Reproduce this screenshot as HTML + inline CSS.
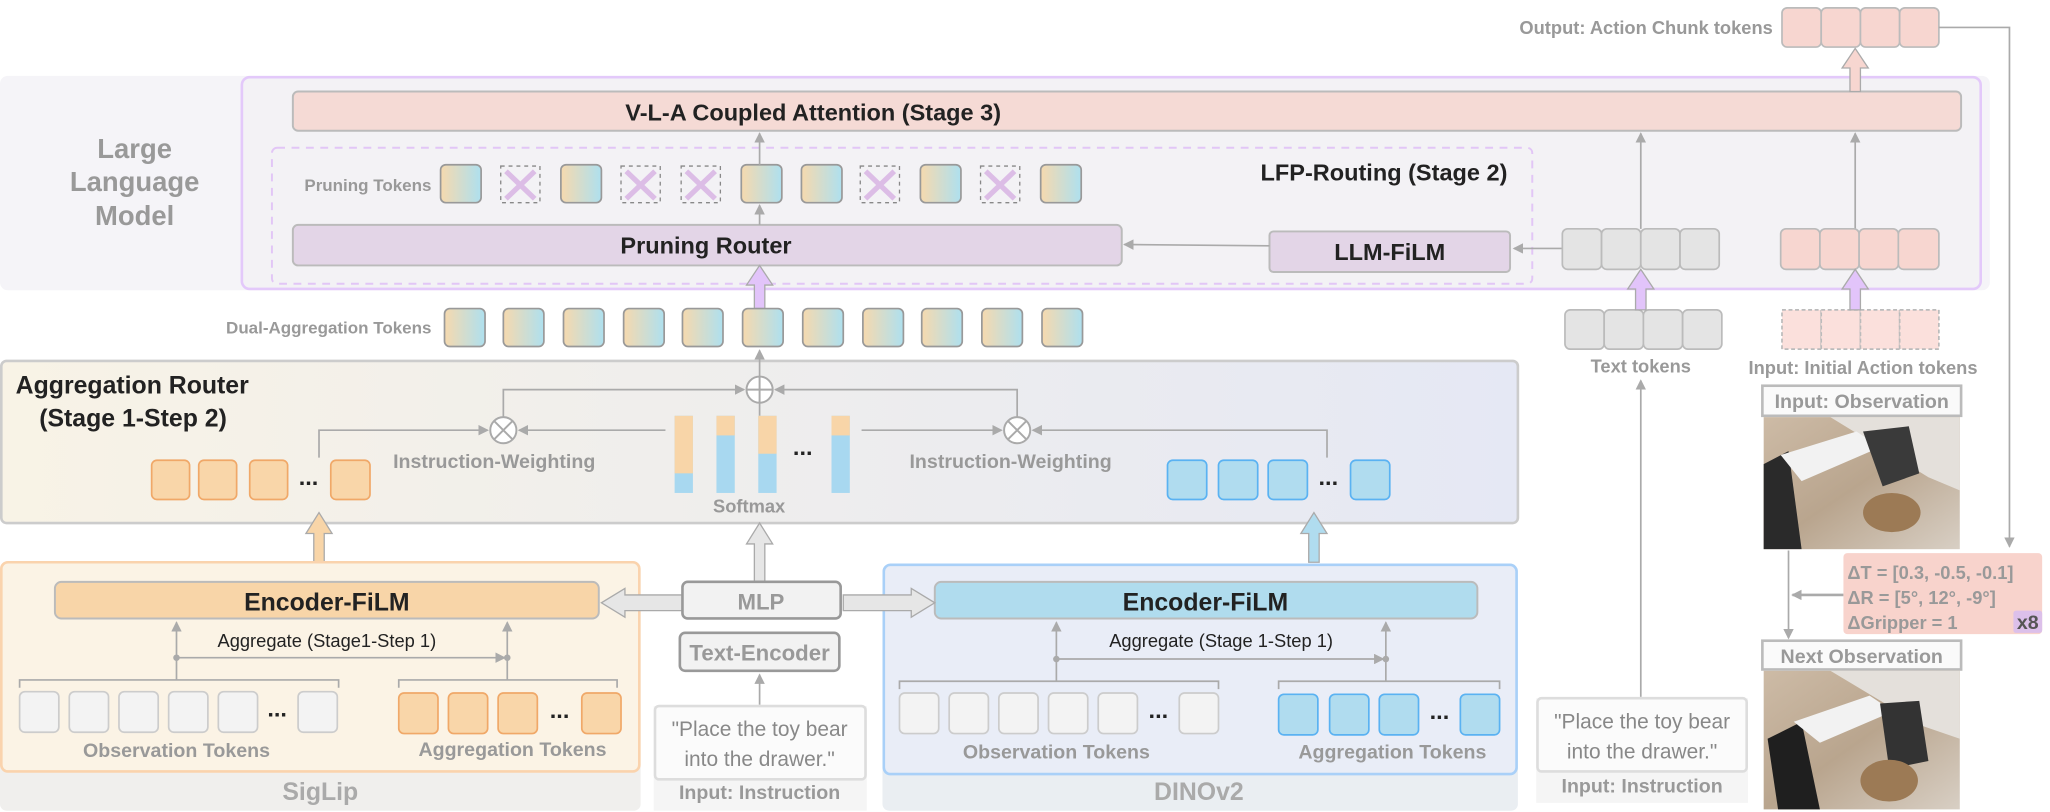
<!DOCTYPE html>
<html><head><meta charset="utf-8"><style>
html,body{margin:0;padding:0;background:#fff;}
svg{display:block;}
text{font-family:"Liberation Sans Narrow","Liberation Sans",sans-serif;}
</style></head><body>
<svg width="2050" height="812" viewBox="0 0 1568 621" preserveAspectRatio="none" xmlns="http://www.w3.org/2000/svg">
<defs>
<linearGradient id="tk" x1="0" x2="1" y1="0" y2="0"><stop offset="0" stop-color="#f6d9ae"/><stop offset="1" stop-color="#aee0ef"/></linearGradient>
<linearGradient id="ar" x1="0" x2="1"><stop offset="0" stop-color="#f8f3e6"/><stop offset="1" stop-color="#e5e8f4"/></linearGradient>
<linearGradient id="ph1" x1="0" x2="1" y1="0" y2="1"><stop offset="0" stop-color="#cdbba6"/><stop offset="0.5" stop-color="#b9a58e"/><stop offset="1" stop-color="#d8cfc4"/></linearGradient>
<marker id="ah" markerWidth="8" markerHeight="8" refX="7" refY="4" orient="auto" markerUnits="userSpaceOnUse"><path d="M0,0 L8,4 L0,8 z" fill="#aaa"/></marker>
</defs>

<!-- LLM region -->
<rect x="0" y="58" width="1522" height="164" rx="6" fill="#f5f4f8"/>
<rect x="185" y="59" width="1330" height="162" rx="6" fill="#f3f2f5" stroke="#e3c9fa" stroke-width="2"/>
<text x="103" y="121" font-size="21" font-weight="bold" fill="#999" text-anchor="middle">Large</text>
<text x="103" y="146" font-size="21" font-weight="bold" fill="#999" text-anchor="middle">Language</text>
<text x="103" y="172" font-size="21" font-weight="bold" fill="#999" text-anchor="middle">Model</text>
<rect x="224" y="70" width="1276" height="30" rx="4" fill="#f5dad5" stroke="#bbb" stroke-width="1.5"/>
<text x="622" y="92" font-size="18" font-weight="bold" fill="#222" text-anchor="middle">V-L-A Coupled Attention (Stage 3)</text>
<rect x="208" y="113" width="964" height="104" rx="4" fill="none" stroke="#e2c6f6" stroke-width="1.5" stroke-dasharray="6,5"/>
<text x="330" y="146" font-size="13" font-weight="bold" fill="#999" text-anchor="end">Pruning Tokens</text>
<text x="1153" y="138" font-size="18" font-weight="bold" fill="#222" text-anchor="end">LFP-Routing (Stage 2)</text>
<g stroke="#999" stroke-width="1.3">
<rect x="337" y="126" width="31" height="29" rx="4" fill="url(#tk)"/>
<rect x="429" y="126" width="31" height="29" rx="4" fill="url(#tk)"/>
<rect x="567" y="126" width="31" height="29" rx="4" fill="url(#tk)"/>
<rect x="613" y="126" width="31" height="29" rx="4" fill="url(#tk)"/>
<rect x="704" y="126" width="31" height="29" rx="4" fill="url(#tk)"/>
<rect x="796" y="126" width="31" height="29" rx="4" fill="url(#tk)"/>
</g>
<g>
<g id="xx"><rect x="383" y="127" width="30" height="28" fill="none" stroke="#888" stroke-width="1" stroke-dasharray="3,3"/><path d="M387,131 L409,152 M409,131 L387,152" stroke="#dcbde6" stroke-width="4"/></g>
<use href="#xx" x="92"/><use href="#xx" x="138"/><use href="#xx" x="275"/><use href="#xx" x="367"/>
</g>
<rect x="224" y="172" width="634" height="31" rx="4" fill="#e3d5e7" stroke="#bbb" stroke-width="1.5"/>
<text x="540" y="194" font-size="18" font-weight="bold" fill="#222" text-anchor="middle">Pruning Router</text>
<rect x="971" y="177" width="184" height="31" rx="3" fill="#e3d5e7" stroke="#bbb" stroke-width="1.5"/>
<text x="1063" y="199" font-size="18" font-weight="bold" fill="#222" text-anchor="middle">LLM-FiLM</text>
<g stroke="#aaa" stroke-width="1.3" fill="none" marker-end="url(#ah)">
<line x1="1195" y1="190" x2="1158" y2="190"/>
<line x1="971" y1="188" x2="860" y2="187"/>
<line x1="581" y1="172" x2="581" y2="157"/>
<line x1="581" y1="126" x2="581" y2="102"/>
<line x1="1255" y1="175" x2="1255" y2="102"/>
<line x1="1419" y1="175" x2="1419" y2="102"/>
</g>
<g stroke="#bbb" stroke-width="1.3">
<rect x="1195" y="175" width="30" height="31" rx="4" fill="#e4e4e4"/><rect x="1225" y="175" width="30" height="31" rx="4" fill="#e4e4e4"/><rect x="1255" y="175" width="30" height="31" rx="4" fill="#e4e4e4"/><rect x="1285" y="175" width="30" height="31" rx="4" fill="#e4e4e4"/>
<rect x="1362" y="175" width="30" height="31" rx="4" fill="#f7d6d0"/><rect x="1392" y="175" width="30" height="31" rx="4" fill="#f7d6d0"/><rect x="1422" y="175" width="30" height="31" rx="4" fill="#f7d6d0"/><rect x="1452" y="175" width="31" height="31" rx="4" fill="#f7d6d0"/>
<rect x="1363" y="6" width="30" height="30" rx="4" fill="#f7d6d0"/><rect x="1393" y="6" width="30" height="30" rx="4" fill="#f7d6d0"/><rect x="1423" y="6" width="30" height="30" rx="4" fill="#f7d6d0"/><rect x="1453" y="6" width="30" height="30" rx="4" fill="#f7d6d0"/>
<rect x="1197" y="237" width="30" height="30" rx="4" fill="#e4e4e4"/><rect x="1227" y="237" width="30" height="30" rx="4" fill="#e4e4e4"/><rect x="1257" y="237" width="30" height="30" rx="4" fill="#e4e4e4"/><rect x="1287" y="237" width="30" height="30" rx="4" fill="#e4e4e4"/>
</g>
<g stroke="#bbb" stroke-width="1.3" stroke-dasharray="3,2">
<rect x="1363" y="237" width="30" height="30" fill="#fbe0dc"/><rect x="1393" y="237" width="30" height="30" fill="#fbe0dc"/><rect x="1423" y="237" width="30" height="30" fill="#fbe0dc"/><rect x="1453" y="237" width="30" height="30" fill="#fbe0dc"/>
</g>
<text x="1356" y="26" font-size="14" font-weight="bold" fill="#999" text-anchor="end">Output: Action Chunk tokens</text>
<text x="1255" y="285" font-size="14" font-weight="bold" fill="#999" text-anchor="middle">Text tokens</text>
<text x="1425" y="286" font-size="14" font-weight="bold" fill="#999" text-anchor="middle">Input: Initial Action tokens</text>
<path d="M1415,70 L1415,52 L1409,52 L1419,37 L1429,52 L1423,52 L1423,70 z" fill="#f7d6d0" stroke="#aaa" stroke-width="1"/>
<g fill="#e2c4fa" stroke="#aaa" stroke-width="1">
<path d="M577,236 L577,218 L571,218 L581,203 L591,218 L585,218 L585,236 z"/>
<path d="M1251,237 L1251,221 L1245,221 L1255,206 L1265,221 L1259,221 L1259,237 z"/>
<path d="M1415,237 L1415,221 L1409,221 L1419,206 L1429,221 L1423,221 L1423,237 z"/>
</g>
<polyline points="1483,21 1537,21 1537,418" fill="none" stroke="#aaa" stroke-width="1.3" marker-end="url(#ah)"/>
<text x="330" y="255" font-size="13" font-weight="bold" fill="#999" text-anchor="end">Dual-Aggregation Tokens</text>
<g stroke="#999" stroke-width="1.3" fill="url(#tk)">
<rect x="340" y="236" width="31" height="29" rx="4"/><rect x="385" y="236" width="31" height="29" rx="4"/><rect x="431" y="236" width="31" height="29" rx="4"/><rect x="477" y="236" width="31" height="29" rx="4"/><rect x="522" y="236" width="31" height="29" rx="4"/><rect x="568" y="236" width="31" height="29" rx="4"/><rect x="614" y="236" width="31" height="29" rx="4"/><rect x="660" y="236" width="31" height="29" rx="4"/><rect x="705" y="236" width="31" height="29" rx="4"/><rect x="751" y="236" width="31" height="29" rx="4"/><rect x="797" y="236" width="31" height="29" rx="4"/>
</g>
<!-- Aggregation Router -->
<rect x="1" y="276" width="1160" height="124" rx="4" fill="url(#ar)" stroke="#ccc" stroke-width="2"/>
<text x="12" y="301" font-size="19" font-weight="bold" fill="#222">Aggregation Router</text>
<text x="30" y="326" font-size="19" font-weight="bold" fill="#222">(Stage 1-Step 2)</text>
<g stroke="#aaa" stroke-width="1.3" fill="none">
<line x1="581" y1="288" x2="581" y2="268" marker-end="url(#ah)"/>
<polyline points="385,319 385,298 569,298" marker-end="url(#ah)"/>
<polyline points="778,319 778,298 593,298" marker-end="url(#ah)"/>
<polyline points="244,350 244,329 373,329" marker-end="url(#ah)"/>
<line x1="509" y1="329" x2="397" y2="329" marker-end="url(#ah)"/>
<line x1="659" y1="329" x2="766" y2="329" marker-end="url(#ah)"/>
<polyline points="1015,350 1015,329 790,329" marker-end="url(#ah)"/>
<line x1="581" y1="318" x2="581" y2="308"/>
</g>
<g stroke="#aaa" stroke-width="1.5" fill="#fff">
<circle cx="581" cy="298" r="10"/><path d="M571,298 H591 M581,288 V308"/>
<circle cx="385" cy="329" r="10"/><path d="M378,322 L392,336 M392,322 L378,336"/>
<circle cx="778" cy="329" r="10"/><path d="M771,322 L785,336 M785,322 L771,336"/>
</g>
<g>
<rect x="516" y="318" width="14" height="59" fill="#a8d8f0"/><rect x="516" y="318" width="14" height="44" fill="#f8d5a8"/>
<rect x="548" y="318" width="14" height="59" fill="#a8d8f0"/><rect x="548" y="318" width="14" height="15" fill="#f8d5a8"/>
<rect x="580" y="318" width="14" height="59" fill="#a8d8f0"/><rect x="580" y="318" width="14" height="29" fill="#f8d5a8"/>
<rect x="636" y="318" width="14" height="59" fill="#a8d8f0"/><rect x="636" y="318" width="14" height="15" fill="#f8d5a8"/>
</g>
<text x="614" y="348" font-size="18" font-weight="bold" fill="#222" text-anchor="middle">...</text>
<text x="573" y="392" font-size="14" font-weight="bold" fill="#999" text-anchor="middle">Softmax</text>
<text x="378" y="358" font-size="15" font-weight="bold" fill="#999" text-anchor="middle">Instruction-Weighting</text>
<text x="773" y="358" font-size="15" font-weight="bold" fill="#999" text-anchor="middle">Instruction-Weighting</text>
<g stroke="#f0a868" stroke-width="1.3" fill="#f9d6a9">
<rect x="116" y="352" width="29" height="30" rx="4"/><rect x="152" y="352" width="29" height="30" rx="4"/><rect x="191" y="352" width="29" height="30" rx="4"/><rect x="253" y="352" width="30" height="30" rx="4"/>
</g>
<text x="236" y="371" font-size="18" font-weight="bold" fill="#222" text-anchor="middle">...</text>
<g stroke="#5ab2f2" stroke-width="1.3" fill="#b0dcef">
<rect x="893" y="352" width="30" height="30" rx="4"/><rect x="932" y="352" width="30" height="30" rx="4"/><rect x="970" y="352" width="30" height="30" rx="4"/><rect x="1033" y="352" width="30" height="30" rx="4"/>
</g>
<text x="1016" y="371" font-size="18" font-weight="bold" fill="#222" text-anchor="middle">...</text>
<path d="M240,430 L240,408 L234,408 L244,392 L254,408 L248,408 L248,430 z" fill="#f8d5a8" stroke="#aaa" stroke-width="1"/>
<path d="M1001,430 L1001,408 L995,408 L1005,392 L1015,408 L1009,408 L1009,430 z" fill="#b0dcef" stroke="#aaa" stroke-width="1"/>
<path d="M577,445 L577,416 L571,416 L581,400 L591,416 L585,416 L585,445 z" fill="#e6e6e6" stroke="#aaa" stroke-width="1"/>
<!-- SigLip -->
<rect x="0" y="430" width="490" height="190" rx="5" fill="#f0efed"/>
<rect x="1" y="430" width="488" height="160" rx="5" fill="#fbf3e5" stroke="#fad3ad" stroke-width="2"/>
<text x="245" y="612" font-size="19" font-weight="bold" fill="#aaa" text-anchor="middle">SigLip</text>
<rect x="42" y="445" width="416" height="28" rx="5" fill="#f8d5a8" stroke="#bbb" stroke-width="1.5"/>
<text x="250" y="467" font-size="19" font-weight="bold" fill="#222" text-anchor="middle">Encoder-FiLM</text>
<text x="250" y="495" font-size="14" fill="#222" text-anchor="middle">Aggregate (Stage1-Step 1)</text>
<g stroke="#aaa" stroke-width="1.3" fill="none">
<line x1="135" y1="520" x2="135" y2="476" marker-end="url(#ah)"/>
<line x1="388" y1="520" x2="388" y2="476" marker-end="url(#ah)"/>
<line x1="135" y1="503" x2="386" y2="503" marker-end="url(#ah)"/>
<polyline points="15,526 15,520 259,520 259,526"/>
<polyline points="305,526 305,520 472,520 472,526"/>
</g>
<g fill="#aaa"><circle cx="135" cy="503" r="2.5"/><circle cx="388" cy="503" r="2.5"/></g>
<g stroke="#ccc" stroke-width="1.3" fill="#f3f3f3">
<rect x="15" y="529" width="30" height="31" rx="4"/><rect x="53" y="529" width="30" height="31" rx="4"/><rect x="91" y="529" width="30" height="31" rx="4"/><rect x="129" y="529" width="30" height="31" rx="4"/><rect x="167" y="529" width="30" height="31" rx="4"/><rect x="228" y="529" width="30" height="31" rx="4"/>
</g>
<text x="212" y="548" font-size="18" font-weight="bold" fill="#222" text-anchor="middle">...</text>
<g stroke="#f0a868" stroke-width="1.3" fill="#f9d6a9">
<rect x="305" y="530" width="30" height="31" rx="4"/><rect x="343" y="530" width="30" height="31" rx="4"/><rect x="381" y="530" width="30" height="31" rx="4"/><rect x="445" y="530" width="30" height="31" rx="4"/>
</g>
<text x="428" y="549" font-size="18" font-weight="bold" fill="#222" text-anchor="middle">...</text>
<text x="135" y="579" font-size="15" font-weight="bold" fill="#999" text-anchor="middle">Observation Tokens</text>
<text x="392" y="578" font-size="15" font-weight="bold" fill="#999" text-anchor="middle">Aggregation Tokens</text>
<!-- DINOv2 -->
<rect x="675" y="432" width="486" height="188" rx="5" fill="#eaeef2"/>
<rect x="676" y="432" width="484" height="160" rx="5" fill="#e9edf7" stroke="#a9d0f8" stroke-width="2"/>
<text x="917" y="612" font-size="19" font-weight="bold" fill="#aaa" text-anchor="middle">DINOv2</text>
<rect x="715" y="445" width="415" height="28" rx="5" fill="#b0dcee" stroke="#bbb" stroke-width="1.5"/>
<text x="922" y="467" font-size="19" font-weight="bold" fill="#222" text-anchor="middle">Encoder-FiLM</text>
<text x="934" y="495" font-size="14" fill="#222" text-anchor="middle">Aggregate (Stage 1-Step 1)</text>
<g stroke="#aaa" stroke-width="1.3" fill="none">
<line x1="808" y1="521" x2="808" y2="476" marker-end="url(#ah)"/>
<line x1="1060" y1="521" x2="1060" y2="476" marker-end="url(#ah)"/>
<line x1="808" y1="504" x2="1058" y2="504" marker-end="url(#ah)"/>
<polyline points="688,527 688,521 932,521 932,527"/>
<polyline points="978,527 978,521 1147,521 1147,527"/>
</g>
<g fill="#aaa"><circle cx="808" cy="504" r="2.5"/><circle cx="1060" cy="504" r="2.5"/></g>
<g stroke="#ccc" stroke-width="1.3" fill="#f3f3f3">
<rect x="688" y="530" width="30" height="31" rx="4"/><rect x="726" y="530" width="30" height="31" rx="4"/><rect x="764" y="530" width="30" height="31" rx="4"/><rect x="802" y="530" width="30" height="31" rx="4"/><rect x="840" y="530" width="30" height="31" rx="4"/><rect x="902" y="530" width="30" height="31" rx="4"/>
</g>
<text x="886" y="549" font-size="18" font-weight="bold" fill="#222" text-anchor="middle">...</text>
<g stroke="#5ab2f2" stroke-width="1.3" fill="#b0dcef">
<rect x="978" y="531" width="30" height="31" rx="4"/><rect x="1017" y="531" width="30" height="31" rx="4"/><rect x="1055" y="531" width="30" height="31" rx="4"/><rect x="1117" y="531" width="30" height="31" rx="4"/>
</g>
<text x="1101" y="550" font-size="18" font-weight="bold" fill="#222" text-anchor="middle">...</text>
<text x="808" y="580" font-size="15" font-weight="bold" fill="#999" text-anchor="middle">Observation Tokens</text>
<text x="1065" y="580" font-size="15" font-weight="bold" fill="#999" text-anchor="middle">Aggregation Tokens</text>
<!-- MLP / Text encoder -->
<path d="M522,455 L478,455 L478,450 L460,461 L478,472 L478,467 L522,467 z" fill="#e6e6e6" stroke="#aaa" stroke-width="1"/>
<path d="M645,455 L697,455 L697,450 L715,461 L697,472 L697,467 L645,467 z" fill="#e6e6e6" stroke="#aaa" stroke-width="1"/>
<rect x="522" y="445" width="121" height="28" rx="4" fill="#f2f2f2" stroke="#999" stroke-width="2"/>
<text x="582" y="466" font-size="17" font-weight="bold" fill="#999" text-anchor="middle">MLP</text>
<rect x="520" y="484" width="122" height="29" rx="4" fill="#f2f2f2" stroke="#999" stroke-width="2"/>
<text x="581" y="505" font-size="17" font-weight="bold" fill="#999" text-anchor="middle">Text-Encoder</text>
<line x1="581" y1="539" x2="581" y2="516" stroke="#aaa" stroke-width="1.3" marker-end="url(#ah)"/>
<rect x="500" y="540" width="163" height="80" fill="#f5f5f5"/>
<rect x="501" y="540" width="161" height="56" rx="3" fill="#fbfbfb" stroke="#ddd" stroke-width="2"/>
<text x="581" y="563" font-size="16" fill="#888" text-anchor="middle">"Place the toy bear</text>
<text x="581" y="586" font-size="16" fill="#888" text-anchor="middle">into the drawer."</text>
<text x="581" y="611" font-size="15" font-weight="bold" fill="#999" text-anchor="middle">Input: Instruction</text>
<!-- right instruction -->
<line x1="1255" y1="533" x2="1255" y2="291" stroke="#aaa" stroke-width="1.3" marker-end="url(#ah)"/>
<rect x="1175" y="534" width="162" height="80" fill="#f5f5f5"/>
<rect x="1176" y="534" width="160" height="56" rx="3" fill="#fbfbfb" stroke="#ddd" stroke-width="2"/>
<text x="1256" y="557" font-size="16" fill="#888" text-anchor="middle">"Place the toy bear</text>
<text x="1256" y="580" font-size="16" fill="#888" text-anchor="middle">into the drawer."</text>
<text x="1256" y="606" font-size="15" font-weight="bold" fill="#999" text-anchor="middle">Input: Instruction</text>
<!-- observations -->
<rect x="1348" y="295" width="152" height="23" fill="#fafafa" stroke="#bbb" stroke-width="2"/>
<text x="1424" y="312" font-size="15" font-weight="bold" fill="#999" text-anchor="middle">Input: Observation</text>
<g>
<rect x="1349" y="319" width="150" height="101" fill="url(#ph1)"/>
<path d="M1400,319 L1499,319 L1499,375 L1475,365 Z" fill="#e4e0db"/>
<path d="M1349,355 L1368,345 L1378,420 L1349,420 Z" fill="#2a2a2a"/>
<path d="M1362,348 L1420,330 L1438,342 L1378,368 Z" fill="#f2f2f2"/>
<path d="M1425,330 L1460,326 L1468,362 L1440,372 Z" fill="#3a3a3a"/>
<ellipse cx="1447" cy="392" rx="22" ry="15" fill="#9c7a55"/>
</g>
<rect x="1348" y="490" width="152" height="22" fill="#fafafa" stroke="#bbb" stroke-width="2"/>
<text x="1424" y="507" font-size="15" font-weight="bold" fill="#999" text-anchor="middle">Next Observation</text>
<g>
<rect x="1349" y="513" width="150" height="106" fill="url(#ph1)"/>
<path d="M1400,513 L1499,513 L1499,565 L1470,555 Z" fill="#e4e0db"/>
<path d="M1352,565 L1378,552 L1392,619 L1360,619 Z" fill="#1f1f1f"/>
<path d="M1372,552 L1430,532 L1448,544 L1392,568 Z" fill="#f2f2f2"/>
<path d="M1438,538 L1468,536 L1475,582 L1445,588 Z" fill="#333"/>
<ellipse cx="1445" cy="597" rx="22" ry="16" fill="#9c7a55"/>
</g>
<line x1="1368" y1="421" x2="1368" y2="488" stroke="#aaa" stroke-width="1.3" marker-end="url(#ah)"/>
<line x1="1410" y1="455" x2="1371" y2="455" stroke="#aaa" stroke-width="2" marker-end="url(#ah)"/>
<rect x="1410" y="423" width="152" height="62" rx="3" fill="#f8d3cc"/>
<rect x="1540" y="467" width="22" height="17" rx="2" fill="#dcc0ea"/>
<text x="1413" y="443" font-size="14" font-weight="bold" fill="#999">ΔT = [0.3, -0.5, -0.1]</text>
<text x="1413" y="462" font-size="14" font-weight="bold" fill="#999">ΔR = [5°, 12°, -9°]</text>
<text x="1413" y="481" font-size="14" font-weight="bold" fill="#999">ΔGripper = 1</text>
<text x="1551" y="481" font-size="15" font-weight="bold" fill="#555" text-anchor="middle">x8</text>
</svg>
</body></html>
